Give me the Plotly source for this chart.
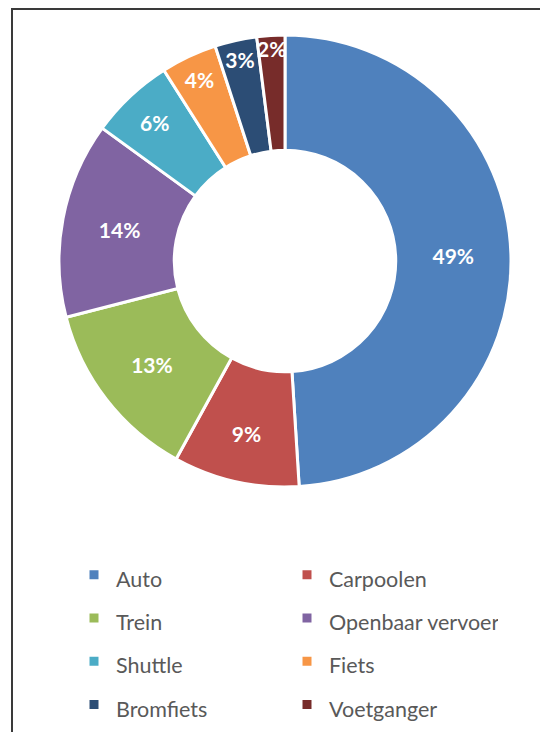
import plotly.graph_objects as go

categories = ["Auto", "Carpoolen", "Trein", "Openbaar vervoer", "Shuttle", "Fiets", "Bromfiets", "Voetganger"]
values = [49, 9, 13, 14, 6, 4, 3, 2]
colors = ["#4F81BD", "#C0504D", "#9BBB59", "#8064A2", "#4BACC6", "#F79646", "#2C4D75", "#772C2A"]

# page offset of the figure (default body margin)
OFF = 8
W, H = 532, 724
cx, cy, r = 285 - OFF, 261 - OFF, 226

# legend font sets row height; visible label text is drawn smaller
legend_labels = ["<span style='font-size:21.5px'>%s</span>" % c for c in categories]

fig = go.Figure(go.Pie(
    labels=legend_labels,
    values=values,
    sort=False,
    direction="clockwise",
    rotation=0,
    hole=0.49,
    marker=dict(colors=colors, line=dict(color="white", width=3)),
    texttemplate="%{percent:.0%}",
    textposition="inside",
    insidetextorientation="horizontal",
    textfont=dict(family="Lato", size=21, color="white", weight="bold"),
    customdata=categories,
    hovertemplate="%{customdata}: %{percent:.0%}<extra></extra>",
    domain=dict(x=[(cx - r) / W, (cx + r) / W], y=[1 - (cy + r) / H, 1 - (cy - r) / H]),
))

fig.update_layout(
    width=W, height=H,
    margin=dict(l=0, r=0, t=0, b=0),
    paper_bgcolor="white",
    uniformtext=dict(minsize=21, mode="show"),
    legend=dict(
        orientation="h",
        x=(72 - OFF) / W, xanchor="left",
        y=0, yanchor="bottom",
        entrywidth=164,
        itemwidth=34,
        font=dict(family="Lato", size=31, color="#595959"),
        traceorder="normal",
    ),
    shapes=[dict(type="rect", xref="paper", yref="paper",
                 x0=(12 - OFF) / W, x1=1.05, y0=-0.05, y1=1 - 1 / H,
                 line=dict(color="#3a3a3a", width=2), fillcolor="rgba(0,0,0,0)")],
)

fig.write_html("out.html")
